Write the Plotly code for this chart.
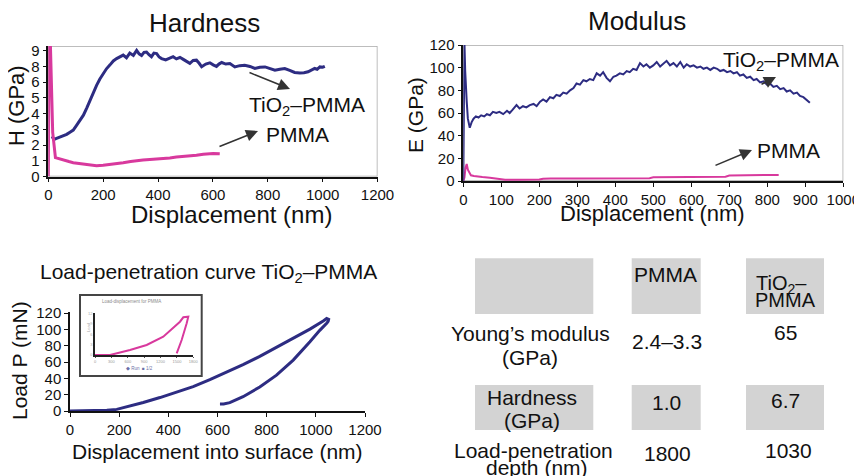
import plotly.graph_objects as go

# page is 862x476; the browser body adds an 8px margin, so the figure is 854x468
OFF = 8
W, H = 862 - OFF, 476 - OFF
def px(x): return (x - OFF) / W
def py(y): return 1 - (y - OFF) / H

FONT = "Liberation Sans, Arial, Helvetica, sans-serif"
BLUE = "#2d2c82"
PINK = "#d8399d"
INK = "#111111"

# ---------------- Hardness (y in printed tick slots) ----------------
H_TICK_TEXT = ["0", "1", "2", "3", "4", "5", "6", "8", "9"]
h_tio2_x = [14, 20, 30, 42, 55, 67, 79, 91, 103, 115, 128, 140, 152, 164, 176, 188, 200, 212, 225,
            237, 249, 261, 273, 285, 297, 310, 322, 331, 340, 349, 358, 367, 376, 385, 395, 404, 413,
            428, 443, 455, 467, 480, 492, 504, 516, 528, 540, 550, 559, 574, 589, 601, 613, 622, 632,
            647, 662, 680, 698, 716, 735, 753, 771, 790, 808, 826, 844, 862, 880, 898, 917, 932, 947,
            959, 971, 980, 990, 1000, 1008]
h_tio2_y = [2.55, 2.35, 2.42, 2.5, 2.62, 2.68, 2.82, 2.95, 3.25, 3.55, 3.9, 4.35, 4.85, 5.3, 5.8, 6.2,
            6.55, 6.85, 7.1, 7.35, 7.5, 7.62, 7.72, 7.55, 7.85, 7.7, 8.02, 7.8, 7.7, 7.9, 7.92, 7.75,
            7.62, 7.85, 7.82, 7.6, 7.5, 7.42, 7.55, 7.62, 7.48, 7.58, 7.45, 7.3, 7.2, 7.38, 7.4, 7.2,
            6.98, 7.15, 7.23, 7.1, 7.0, 7.15, 7.25, 7.15, 7.18, 6.97, 7.05, 7.08, 7.0, 6.87, 6.95, 6.97,
            6.85, 6.76, 6.82, 6.87, 6.75, 6.62, 6.59, 6.6, 6.66, 6.75, 6.87, 6.82, 6.97, 6.95, 7.01]
h_pmma_x = [0, 3, 6, 16, 26, 40, 55, 75, 91, 110, 128, 150, 176, 200, 225, 250, 273, 300, 322, 345,
            370, 395, 419, 443, 467, 492, 516, 540, 565, 590, 601, 625]
h_pmma_y = [0, 9.5, 9.5, 2.8, 1.2, 1.12, 1.05, 0.95, 0.88, 0.84, 0.79, 0.74, 0.68, 0.72, 0.79, 0.83,
            0.88, 0.95, 1.02, 1.05, 1.08, 1.1, 1.15, 1.18, 1.24, 1.27, 1.3, 1.35, 1.42, 1.46, 1.47, 1.45]

# ---------------- Modulus (GPa) ----------------
e_tio2_x = [0, 1, 2, 3, 5, 7, 9, 12, 17, 22, 27, 33, 40, 47, 55, 62, 70, 78, 87, 95, 105, 115, 122,
            130, 140, 148, 157, 166, 175, 185, 193, 202, 210, 219, 228, 237, 245, 254, 263, 272, 281,
            290, 298, 307, 316, 324, 333, 342, 351, 360, 368, 377, 386, 395, 403, 412, 421, 430, 438,
            447, 456, 465, 474, 482, 491, 500, 509, 518, 526, 535, 544, 553, 562, 571, 580, 588, 597,
            606, 615, 624, 632, 641, 650, 659, 668, 676, 685, 694, 703, 711, 720, 728, 737, 746, 755,
            764, 772, 781, 790, 799, 807, 816, 825, 834, 843, 851, 860, 869, 878, 886, 895, 903, 912]
e_tio2_y = [0, 50, 10, 122, 97, 80, 70, 55, 47, 52, 55, 57, 56, 58, 57, 59, 58, 61, 60, 61, 59, 62, 60,
            63, 67, 64, 66, 65, 67, 68, 66, 70, 72, 70, 74, 73, 76, 75, 78, 77, 80, 82, 86, 85, 89, 88,
            90, 89, 95, 93, 96, 91, 88, 92, 93, 95, 94, 97, 96, 99, 98, 104, 101, 103, 100, 102, 105,
            101, 103, 106, 102, 104, 101, 105, 100, 103, 101, 102, 100, 101, 99, 100, 98, 100, 99, 97,
            98, 96, 97, 95, 96, 93, 94, 91, 92, 89, 90, 87, 88, 85, 86, 83, 84, 81, 82, 79, 80, 77, 78,
            75, 74, 72, 69]
e_pmma_x = [0, 3, 6, 9, 12, 16, 20, 28, 35, 50, 70, 90, 110, 150, 200, 210, 230, 300, 400, 490, 500,
            600, 690, 700, 760, 830]
e_pmma_y = [0, 3, 12, 15, 10, 7, 5, 4.5, 4, 3.5, 2.8, 1.8, 1.2, 1.2, 1.3, 2.0, 2.2, 2.2, 2.3, 2.4,
            3.2, 3.6, 3.8, 4.8, 5.0, 5.4]

# ---------------- Load-penetration TiO2-PMMA (nm, mN) ----------------
lp_x = [0, 50, 100, 150, 190, 230, 298, 366, 434, 501, 569, 637, 704, 772, 840, 908, 976, 1030, 1044,
        1052, 1050, 1045, 1016, 976, 908, 840, 772, 704, 650, 625, 610]
lp_y = [0, 0.3, 0.5, 0.8, 2, 5, 10.5, 16.5, 23, 30, 38.5, 47.5, 57, 67, 78, 89.5, 100.5, 110.5, 113.5,
        112.5, 110, 108, 99, 85, 62.5, 44, 29.5, 17.5, 10.2, 8.6, 8.6]

# ---------------- Inset: PMMA load-displacement ----------------
in_x = [0, 275, 641, 946, 1250, 1433, 1556, 1617, 1708, 1679, 1587, 1496]
in_y = [0, 0, 1.44, 2.88, 5.27, 7.68, 9.58, 10.85, 11.02, 9.12, 4.32, 0.49]

# ---------------- Table ----------------
young_vals = ["2.4–3.3", "65"]
hard_vals = ["1.0", "6.7"]
depth_vals = ["1800", "1030"]

fig = go.Figure()
fig.add_trace(go.Scatter(x=h_tio2_x, y=h_tio2_y, mode="lines", line=dict(color=BLUE, width=3),
                         xaxis="x", yaxis="y", showlegend=False))
fig.add_trace(go.Scatter(x=h_pmma_x, y=h_pmma_y, mode="lines", line=dict(color=PINK, width=3),
                         xaxis="x", yaxis="y", showlegend=False))
fig.add_trace(go.Scatter(x=e_pmma_x, y=e_pmma_y, mode="lines", line=dict(color=PINK, width=2),
                         xaxis="x2", yaxis="y2", showlegend=False))
fig.add_trace(go.Scatter(x=e_tio2_x, y=e_tio2_y, mode="lines", line=dict(color=BLUE, width=2),
                         xaxis="x2", yaxis="y2", showlegend=False))
fig.add_trace(go.Scatter(x=lp_x, y=lp_y, mode="lines", line=dict(color=BLUE, width=3),
                         xaxis="x3", yaxis="y3", showlegend=False))
fig.add_trace(go.Scatter(x=in_x, y=in_y, mode="lines", line=dict(color=PINK, width=2),
                         xaxis="x4", yaxis="y4", showlegend=False))

tickfont = dict(family=FONT, size=15, color=INK)
common = dict(showgrid=False, zeroline=False, showline=True, linecolor="#111", linewidth=1.5,
              ticks="outside", ticklen=4, tickwidth=1.2, tickcolor="#111", tickfont=tickfont,
              fixedrange=True, automargin=False)

fig.update_layout(
    width=W, height=H, autosize=False, margin=dict(l=0, r=0, t=0, b=0, pad=0, autoexpand=False),
    paper_bgcolor="white", plot_bgcolor="white", showlegend=False,
    font=dict(family=FONT, color=INK),
    xaxis=dict(domain=[px(48.3), px(377.5)], range=[0, 1200], tickvals=list(range(0, 1201, 200)),
               anchor="y", **common),
    yaxis=dict(domain=[py(176.5), py(46)], range=[0, 8.3], tickvals=list(range(9)),
               ticktext=H_TICK_TEXT, anchor="x", **common),
    xaxis2=dict(domain=[px(463.3), px(843.3)], range=[0, 1000], tickvals=list(range(0, 1001, 100)),
                anchor="y2", **common),
    yaxis2=dict(domain=[py(181), py(45)], range=[0, 120], tickvals=list(range(0, 121, 20)),
                anchor="x2", **common),
    xaxis3=dict(domain=[px(70), px(365)], range=[0, 1200], tickvals=list(range(0, 1201, 200)),
                anchor="y3", **common),
    yaxis3=dict(domain=[py(411), py(312)], range=[0, 121.5], tickvals=list(range(0, 121, 20)),
                anchor="x3", **common),
    xaxis4=dict(domain=[px(95), px(193.3)], range=[0, 1800], tickvals=list(range(0, 1801, 300)),
                anchor="y4", showgrid=False, zeroline=False, showline=True, linecolor="#222",
                linewidth=1.5, ticks="outside", ticklen=1.5, tickcolor="#555", automargin=False,
                tickfont=dict(family=FONT, size=4, color="#999"), fixedrange=True),
    yaxis4=dict(domain=[py(355), py(313.3)], range=[0, 12], tickvals=[0, 3, 6, 9, 12],
                anchor="x4", showgrid=False, zeroline=False, showline=True, linecolor="#222",
                linewidth=1.5, ticks="", tickfont=dict(family=FONT, size=4, color="#aaa"),
                fixedrange=True, automargin=False),
)

shapes = []
shapes.append(dict(type="rect", xref="x", yref="y", x0=0, x1=1200, y0=0, y1=8.3,
                   line=dict(color="#a8a8a8", width=1.5), layer="below"))
shapes.append(dict(type="rect", xref="x2", yref="y2", x0=0, x1=1000, y0=0, y1=120,
                   line=dict(color="#a8a8a8", width=1.5), layer="below"))
shapes.append(dict(type="rect", xref="paper", yref="paper", x0=px(80), x1=px(201.7),
                   y0=py(376), y1=py(295), line=dict(color="#454545", width=2),
                   fillcolor="white", layer="below"))
BOX_X = [(475, 593.3), (631.7, 700.7), (746, 824)]
BOX_Y = [(258.3, 314), (385, 430)]
for (y0, y1) in BOX_Y:
    for (x0, x1) in BOX_X:
        shapes.append(dict(type="rect", xref="paper", yref="paper", x0=px(x0), x1=px(x1),
                           y0=py(y1), y1=py(y0), line=dict(width=0), fillcolor="#d3d3d3",
                           layer="below"))
fig.update_layout(shapes=shapes)

ann = []
def text(t, x, y, size, angle=0, color=INK):
    ann.append(dict(text=t, x=px(x), y=py(y), xref="paper", yref="paper", showarrow=False,
                    xanchor="center", yanchor="middle", textangle=angle,
                    font=dict(family=FONT, size=size, color=color)))

def arrow(x_tail, y_tail, x_head, y_head):
    ann.append(dict(text="", x=px(x_head), y=py(y_head), xref="paper", yref="paper",
                    showarrow=True, ax=x_tail - x_head, ay=y_tail - y_head,
                    arrowhead=2, arrowsize=1.5, arrowwidth=1.6, arrowcolor="#333"))

text("Hardness", 204, 23, 26)
text("Modulus", 637, 21, 26)
text("Load-penetration curve TiO<sub>2</sub>–PMMA", 208, 273, 21)
text("Displacement (nm)", 231, 214, 24)
text("H (GPa)", 16, 106, 22, angle=-90)
text("Displacement (nm)", 652, 213, 22)
text("E (GPa)", 416, 115, 21, angle=-90)
text("Displacement into surface (nm)", 217, 451, 21)
text("Load P (mN)", 19, 361, 21, angle=-90)
text("TiO<sub>2</sub>–PMMA", 307, 106, 21)
text("PMMA", 297, 135, 21)
arrow(248, 72, 290, 89)
arrow(218, 147, 258, 131)
text("TiO<sub>2</sub>–PMMA", 781, 61, 21)
text("PMMA", 788, 150, 21)
arrow(760, 85, 776, 77)
arrow(714, 166, 752, 150)
text("Load-displacement for PMMA", 131, 301, 4.5, color="#8a8a8a")
text("◆ Run  ■ 1/2", 139, 368, 4.5, color="#6a70a8")
text("Load", 88, 328, 4, angle=-90, color="#aaaaaa")
text("PMMA", 665, 274, 21)
text("TiO<sub>2</sub>–", 781, 284, 20)
text("PMMA", 785, 300, 20)
text("Young’s modulus", 530, 333, 21)
text("(GPa)", 530, 357, 21)
text(young_vals[0], 667, 341, 21)
text(young_vals[1], 785, 332, 21)
text("Hardness", 532, 397, 21)
text("(GPa)", 532, 420, 21)
text(hard_vals[0], 666, 402, 21)
text(hard_vals[1], 785, 400, 21)
text("Load-penetration", 533, 450, 21)
text("depth (nm)", 537, 467, 21)
text(depth_vals[0], 667, 453, 21)
text(depth_vals[1], 788, 450, 21)
fig.update_layout(annotations=ann)

fig.write_html("out.html")
